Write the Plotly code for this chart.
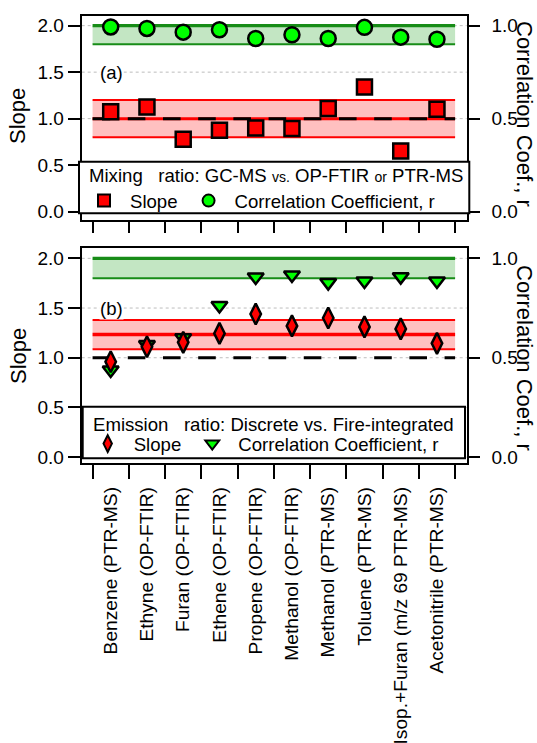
import plotly.graph_objects as go

# ---------------- data ----------------
categories = ["Benzene (PTR-MS)", "Ethyne (OP-FTIR)", "Furan (OP-FTIR)", "Ethene (OP-FTIR)",
              "Propene (OP-FTIR)", "Methanol (OP-FTIR)", "Methanol (PTR-MS)", "Toluene (PTR-MS)",
              "Isop.+Furan (m/z 69 PTR-MS)", "Acetonitrile (PTR-MS)"]
mix_slope = [1.075, 1.124, 0.778, 0.875, 0.90, 0.893, 1.11, 1.339, 0.653, 1.10]
mix_r = [0.993, 0.985, 0.965, 0.978, 0.931, 0.951, 0.931, 0.991, 0.938, 0.927]
emis_slope = [0.96, 1.11, 1.155, 1.245, 1.44, 1.32, 1.40, 1.31, 1.29, 1.145]
emis_r = [0.438, 0.566, 0.60, 0.763, 0.906, 0.916, 0.878, 0.886, 0.908, 0.886]

mix_slope_band = [0.8, 1.0, 1.2]        # low, centre, high
emis_slope_band = [1.085, 1.235, 1.38]  # low, centre, high
r_band = [0.9, 1.0]
unity = 1.0
slope_ticks = [0.0, 0.5, 1.0, 1.5, 2.0]
r_ticks = [0.0, 0.5, 1.0]

# ---------------- geometry helpers ----------------
W, H = 537, 743
def px(p):
    return p / W
def py(p):
    return 1 - p / H

FONT = "Liberation Sans, Arial, sans-serif"
xdom = [px(81.7), px(466.7)]
top_dom = [py(220), py(15.7)]
bot_dom = [py(463.3), py(247.7)]
xr = [-0.8, 9.82]
x_lo, x_hi = -0.5, len(categories) - 0.5

RED = "#FF0000"
GREEN = "#00FF00"
DKGREEN = "#178C17"
PINK = "#FFC0C0"
LTGREEN = "#C3E6C3"

fig = go.Figure()

# top panel
fig.add_trace(go.Scatter(x=categories, y=mix_slope, mode="markers", name="Slope",
                         marker=dict(symbol="square", size=15, color=RED, line=dict(color="black", width=2.5)),
                         xaxis="x", yaxis="y", legend="legend"))
fig.add_trace(go.Scatter(x=categories, y=mix_r, mode="markers", name="Correlation Coefficient, r",
                         marker=dict(symbol="circle", size=15, color=GREEN, line=dict(color="black", width=2.5)),
                         xaxis="x", yaxis="y2", legend="legend"))
# bottom panel (slope axis y4 overlays r axis y3 so diamonds are on top)
fig.add_trace(go.Scatter(x=categories, y=emis_slope, mode="markers", name="Slope",
                         marker=dict(symbol="diamond-tall", size=15, color=RED, line=dict(color="black", width=2.5)),
                         xaxis="x2", yaxis="y4", legend="legend2"))
fig.add_trace(go.Scatter(x=categories, y=emis_r, mode="markers", name="Correlation Coefficient, r",
                         marker=dict(symbol="triangle-down", size=14, color=GREEN, line=dict(color="black", width=2.5)),
                         xaxis="x2", yaxis="y3", legend="legend2"))

shapes = []
def xref_for(yref):
    return "x" if yref in ("y", "y2") else "x2"
def grid(yref, y):
    shapes.append(dict(type="line", xref=xref_for(yref) + " domain", yref=yref, x0=0, x1=1, y0=y, y1=y,
                       line=dict(color="#BDBDBD", width=1, dash="dot"), layer="below"))
def hband(yref, y0, y1, color):
    shapes.append(dict(type="rect", xref=xref_for(yref), yref=yref,
                       x0=x_lo, x1=x_hi, y0=y0, y1=y1, fillcolor=color, line=dict(width=0), layer="below"))
def hline(yref, y, color, width, dash="solid"):
    shapes.append(dict(type="line", xref=xref_for(yref), yref=yref,
                       x0=x_lo, x1=x_hi, y0=y, y1=y, line=dict(color=color, width=width, dash=dash),
                       layer="below"))

# top
for t in slope_ticks:
    grid("y", t)
hband("y2", r_band[0], r_band[1], LTGREEN)
hband("y", mix_slope_band[0], mix_slope_band[2], PINK)
hline("y2", r_band[1], DKGREEN, 3.2)
hline("y2", r_band[0], DKGREEN, 2)
hline("y", mix_slope_band[0], RED, 2)
hline("y", mix_slope_band[2], RED, 2)
hline("y", mix_slope_band[1], RED, 3)
hline("y", unity, "black", 3, "17.6px,17.6px")
# bottom
for t in slope_ticks:
    grid("y4", t)
hband("y3", r_band[0], r_band[1], LTGREEN)
hband("y4", emis_slope_band[0], emis_slope_band[2], PINK)
hline("y3", r_band[1], DKGREEN, 3.2)
hline("y3", r_band[0], DKGREEN, 2)
hline("y4", emis_slope_band[0], RED, 2)
hline("y4", emis_slope_band[2], RED, 2)
hline("y4", emis_slope_band[1], RED, 3.5)
hline("y4", unity, "black", 3, "17.6px,17.6px")

# legend boxes
shapes.append(dict(type="rect", xref="paper", yref="paper", x0=px(79), x1=px(469.3), y0=py(213.3), y1=py(161.7),
                   fillcolor="white", line=dict(color="black", width=2), layer="above"))
shapes.append(dict(type="rect", xref="paper", yref="paper", x0=px(82.7), x1=px(465), y0=py(458.3), y1=py(406.7),
                   fillcolor="white", line=dict(color="black", width=2), layer="above"))

tickfont = dict(family=FONT, size=19, color="black")
common_x = dict(type="category", categoryorder="array", categoryarray=categories, range=xr, domain=xdom,
                tickson="boundaries", ticks="outside", tickwidth=2, tickcolor="black",
                showline=True, linewidth=2, linecolor="black", mirror=True, showgrid=False, zeroline=False)
slope_y = dict(tickvals=slope_ticks, tickformat=".1f", ticks="outside", ticklen=12, tickwidth=2, tickcolor="black",
               showline=True, linewidth=2, linecolor="black", mirror=True, showgrid=False,
               zeroline=False, tickfont=tickfont)
r_y = dict(tickvals=r_ticks, tickformat=".1f", ticks="outside", ticklen=12, tickwidth=2, tickcolor="black",
           showline=False, showgrid=False, zeroline=False, tickfont=tickfont, ticklabelstandoff=8)

legend_common = dict(xanchor="left", yanchor="top", orientation="h",
                     bgcolor="rgba(0,0,0,0)", borderwidth=0, itemsizing="constant", itemwidth=42,
                     font=dict(family=FONT, size=18.6, color="black"))

def ann_text(text, x, y, size=18.6, angle=0, xanchor="center"):
    return dict(text=text, x=px(x), y=py(y), xref="paper", yref="paper", textangle=angle,
                xanchor=xanchor, yanchor="middle", showarrow=False,
                font=dict(family=FONT, size=size, color="black"))

fig.update_layout(
    width=W, height=H, margin=dict(l=0, r=0, t=0, b=0, autoexpand=False),
    paper_bgcolor="white", plot_bgcolor="rgba(0,0,0,0)",
    font=dict(family=FONT, size=18.8, color="black"),
    xaxis=dict(**common_x, anchor="y", ticklen=11, showticklabels=False),
    xaxis2=dict(**common_x, anchor="y3", ticklen=14, showticklabels=True, tickangle=-90,
                tickfont=dict(family=FONT, size=19.2, color="black"), ticklabelstandoff=14),
    yaxis=dict(**slope_y, domain=top_dom, range=[-0.09, 2.107], anchor="x", side="left"),
    yaxis2=dict(**r_y, overlaying="y", range=[-0.045, 1.0535], anchor="x", side="right"),
    yaxis3=dict(**r_y, domain=bot_dom, range=[-0.031, 1.0535], anchor="x2", side="right"),
    yaxis4=dict(**slope_y, overlaying="y3", range=[-0.062, 2.107], anchor="x2", side="left"),
    shapes=shapes,
    showlegend=True,
    legend=dict(**legend_common, x=px(78), y=py(182)),
    legend2=dict(**legend_common, x=px(81.7), y=py(425)),
    annotations=[
        dict(text="(a)", x=px(99), y=1.5, xref="paper", yref="y", xanchor="left", yanchor="middle",
             showarrow=False, bgcolor="white", borderpad=0, font=dict(family=FONT, size=18.6)),
        dict(text="(b)", x=px(99), y=1.5, xref="paper", yref="y4", xanchor="left", yanchor="middle",
             showarrow=False, bgcolor="white", borderpad=0, font=dict(family=FONT, size=18.6)),
        ann_text("Mixing\u00a0\u00a0\u00a0ratio: GC-MS <span style='font-size:14px'>vs.</span> OP-FTIR "
                 "<span style='font-size:14px'>or</span> PTR-MS", 87, 175, xanchor="left"),
        ann_text("Emission\u00a0\u00a0\u00a0ratio: Discrete vs. Fire-integrated", 90.5, 424, xanchor="left"),
        ann_text("Slope", 18, 116, size=22, angle=-90),
        ann_text("Slope", 18, 356, size=22, angle=-90),
        ann_text("Correlation Coef., r", 525, 114, size=22, angle=90),
        ann_text("Correlation Coef., r", 525, 358, size=22, angle=90),
    ],
)

fig.write_html("out.html", config={"displayModeBar": False},
               post_script="document.body.style.margin='0';document.body.style.padding='0';")
